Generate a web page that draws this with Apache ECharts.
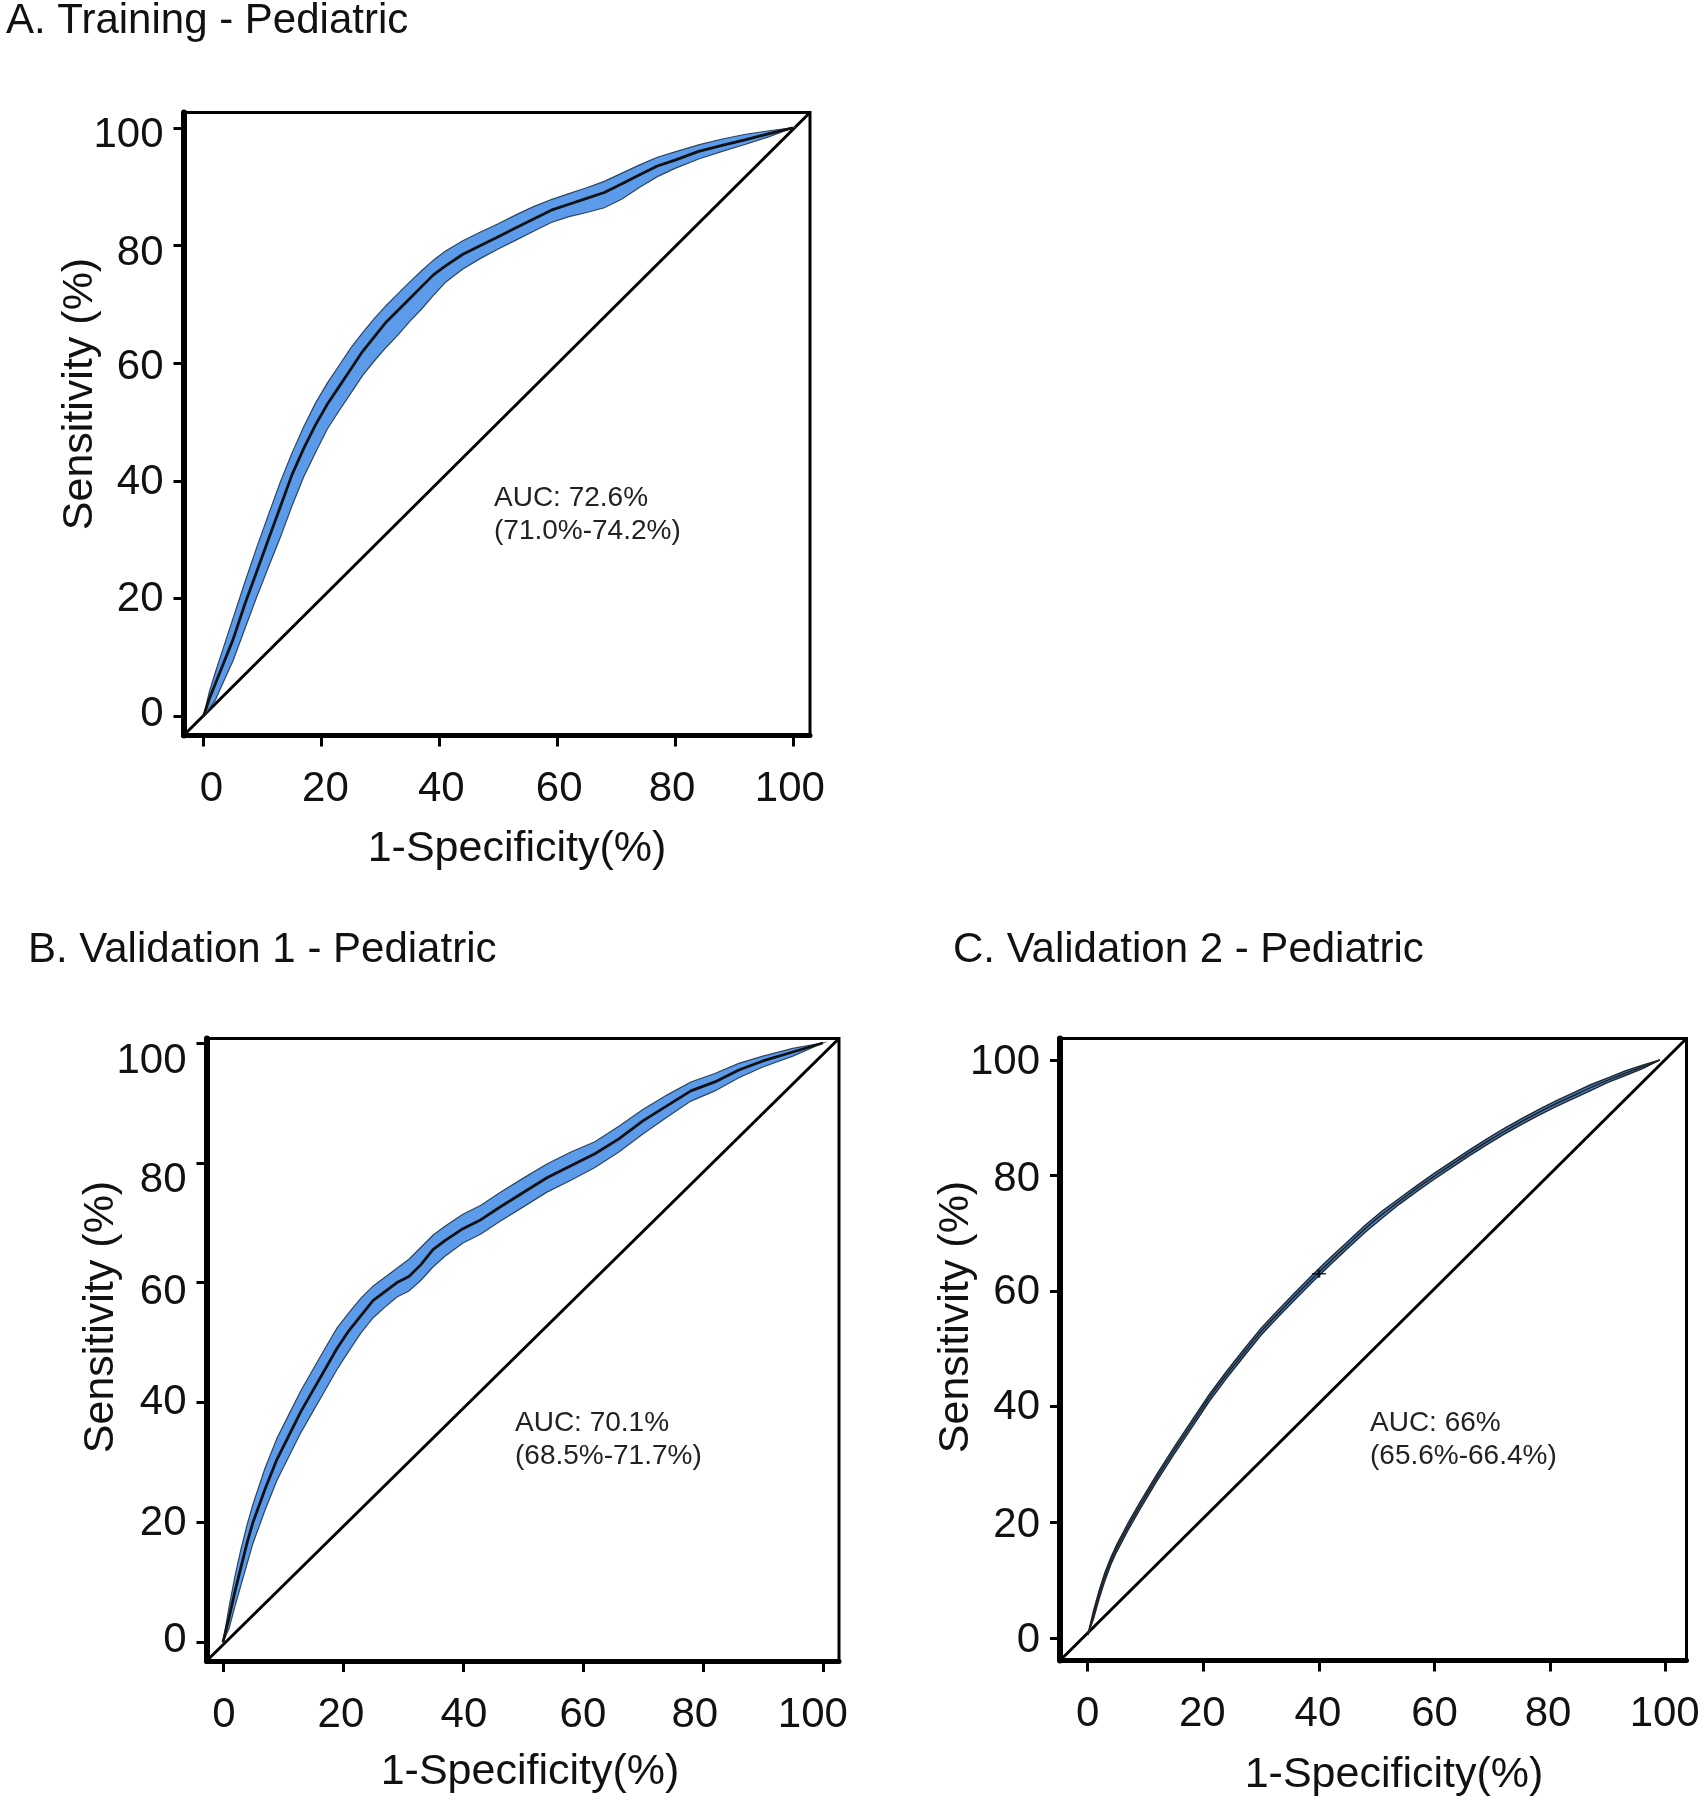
<!DOCTYPE html>
<html>
<head>
<meta charset="utf-8">
<script src="https://cdn.jsdelivr.net/npm/echarts@6/dist/echarts.min.js"></script>
<style>
html,body{margin:0;padding:0;background:#fff;}
#chart{width:1704px;height:1800px;}
</style>
</head>
<body>
<div id="chart"></div>
<script>
// ---------- data ----------
const panelTitles = ['A. Training - Pediatric', 'B. Validation 1 - Pediatric', 'C. Validation 2 - Pediatric'];
const xAxisName = '1-Specificity(%)';
const yAxisName = 'Sensitivity (%)';
const tickValues = [0, 20, 40, 60, 80, 100];
const tickLabels = ['0', '20', '40', '60', '80', '100'];
const aucLines = [
  ['AUC: 72.6%', '(71.0%-74.2%)'],
  ['AUC: 70.1%', '(68.5%-71.7%)'],
  ['AUC: 66%', '(65.6%-66.4%)']
];

// Panel A: ROC curve and CI band boundaries [1-specificity, sensitivity]
const rocA = [[0,0],[1,3],[2,5.5],[3,8],[5,13],[7,19],[9,24.5],[11,30],[13,35.5],[15,41],[17,45.5],[19,49.5],[21,53],[23,56],[25,59],[27,62],[29,64.5],[31,67],[33,69],[35,71],[37,73],[39,75],[41,76.5],[44,78.5],[47,80],[50,81.5],[53,83],[56,84.5],[59,86],[62,87],[65,88],[68,89],[71,90.5],[74,92],[77,93.5],[80,94.5],[84,96],[88,97],[92,98],[96,99],[100,100]];
const upperA = [[0,0],[1,4.2],[2,7.4],[3,10.5],[5,16.6],[7,22.7],[9,28.6],[11,34.2],[13,39.7],[15,44.7],[17,49.2],[19,53.2],[21,56.6],[23,59.6],[25,62.6],[27,65.2],[29,67.6],[31,69.8],[33,71.8],[35,73.8],[37,75.7],[39,77.5],[41,79],[44,80.8],[47,82.3],[50,83.7],[53,85.2],[56,86.6],[59,87.8],[62,88.8],[65,89.8],[68,90.9],[71,92.3],[74,93.7],[77,95],[80,95.9],[84,97.1],[88,98.1],[92,98.9],[96,99.5],[100,100]];
const lowerA = [[0,0],[2,2.7],[3,5],[5,9.4],[7,14.8],[9,20.2],[11,25.3],[13,30.3],[15,35.7],[17,40.7],[19,44.8],[21,48.8],[23,51.9],[25,54.9],[27,57.9],[29,60.4],[31,62.7],[33,64.8],[35,67.1],[37,69.2],[39,71.5],[41,73.7],[44,76],[47,77.8],[50,79.4],[53,80.9],[56,82.4],[59,83.9],[62,84.9],[65,85.6],[68,86.4],[71,87.9],[74,89.9],[77,91.7],[80,93.1],[84,94.7],[88,96],[92,97.2],[96,98.5],[100,100]];

// Panel B
const rocB = [[0,0],[1,4],[2,8.5],[3,12.5],[4,16.5],[5,20],[7,25.5],[9,30.5],[11,34.5],[13,38.5],[15,42],[17,45.5],[19,49],[21,52],[23,54.5],[25,57],[27,58.5],[29,60],[31,61],[33,63],[35,65.5],[37,67],[40,69],[43,70.5],[46,72.5],[50,75],[54,77.5],[58,79.5],[62,81.5],[66,84],[70,87],[74,89.5],[78,92],[82,93.5],[86,95.5],[90,97],[95,98.5],[100,100]];
const upperB = [[0,0],[1,5.8],[2,11],[3,15.5],[4,19.5],[5,23],[7,29],[9,34],[11,38],[13,42],[15,45.5],[17,49],[19,52.4],[21,55],[23,57.4],[25,59.4],[27,60.9],[29,62.4],[31,63.9],[33,65.9],[35,67.9],[37,69.4],[40,71.4],[43,72.9],[46,74.9],[50,77.4],[54,79.8],[58,81.8],[62,83.5],[66,86.1],[70,88.9],[74,91.3],[78,93.5],[82,94.9],[86,96.6],[90,97.8],[95,99.1],[100,100]];
const lowerB = [[0,0],[1,2.2],[2,6],[3,9.5],[4,13],[5,16.5],[7,22],[9,27],[11,31],[13,35],[15,38.5],[17,42],[19,45.5],[21,48.6],[23,51.6],[25,54.1],[27,55.9],[29,57.6],[31,58.6],[33,60.4],[35,62.6],[37,64.4],[40,66.6],[43,68.1],[46,70.1],[50,72.6],[54,75.1],[58,77.1],[62,79.2],[66,81.8],[70,84.8],[74,87.6],[78,90.3],[82,92],[86,94.2],[90,96],[95,97.8],[100,100]];

// Panel C
const rocC = [[0,0.5],[1,4],[2,7.6],[3,10.7],[4,13.3],[5,15.5],[7,19.3],[9,22.8],[12,27.8],[15,32.5],[18,37],[21,41.5],[24,45.5],[27,49.3],[30,53],[33,56.2],[36,59.3],[39,62.3],[42,65.2],[45,68],[48,70.8],[51,73.3],[54,75.6],[57,77.8],[60,79.9],[63,81.9],[66,83.9],[69,85.8],[72,87.6],[75,89.3],[78,90.9],[81,92.4],[84,93.8],[87,95.2],[90,96.5],[93,97.7],[96,98.8],[99,100]];
const upperC = [[0,0.5],[1,4.7],[2,8.3],[3,11.4],[4,13.9],[5,16.1],[7,19.9],[9,23.4],[12,28.4],[15,33.1],[18,37.6],[21,42.1],[24,46.1],[27,49.9],[30,53.6],[33,56.8],[36,59.9],[39,62.9],[42,65.8],[45,68.6],[48,71.4],[51,73.9],[54,76.1],[57,78.3],[60,80.4],[63,82.4],[66,84.4],[69,86.3],[72,88.1],[75,89.8],[78,91.4],[81,92.9],[84,94.3],[87,95.7],[90,96.9],[93,98.1],[96,99.1],[99,100]];
const lowerC = [[0,0.5],[1,3.3],[2,6.9],[3,10],[4,12.7],[5,14.9],[7,18.7],[9,22.2],[12,27.2],[15,31.9],[18,36.4],[21,40.9],[24,44.9],[27,48.7],[30,52.4],[33,55.6],[36,58.7],[39,61.7],[42,64.6],[45,67.4],[48,70.2],[51,72.7],[54,75.1],[57,77.3],[60,79.4],[63,81.4],[66,83.4],[69,85.3],[72,87.1],[75,88.8],[78,90.4],[81,91.9],[84,93.3],[87,94.7],[90,96.1],[93,97.3],[96,98.5],[99,100]];
const markerC = [[40, 63]];

// axis extents per panel (frame box)
const xRanges = [[-3.4, 102.9], [-2.75, 102.7], [-4.8, 103.6]];
const yRanges = [[-3.3, 102.6], [-3.17, 100.75], [-3.9, 103.7]];

// ---------- layout / style ----------
const FONT = '"Liberation Sans", Arial, Helvetica, sans-serif';
const grids = [
  {left: 183.5, top: 112.5, width: 626.5, height: 623},
  {left: 206.5, top: 1038.5, width: 632.5, height: 622.5},
  {left: 1060, top: 1038.5, width: 626.5, height: 622}
];
// small pixel nudges of tick labels (as printed in the original figure)
const yLabelNudge = [[-1.5, 1, 1.5, 4, 8, 8], [-1.5, 1, 0, 10, 18, 18.5], [2, 3, 1, 1, 3.5, 2.5]];
const xLabelNudge = [[8, 4, 2, 2, -3, -3], [1, -2, 1, 0, -8, -10], [0, -1, -1, 0, -2, -1]];
const titlePos = [[6, 21], [28, 950], [953, 950]];
const yNamePos = [[80, 394], [101, 1317], [956, 1317]];
const xNamePos = [[517, 849], [530, 1772], [1394, 1775]];
const aucPos = [[494, 498], [515, 1423], [1370, 1423]];

const rocs = [rocA, rocB, rocC];
const uppers = [upperA, upperB, upperC];
const lowers = [lowerA, lowerB, lowerC];

function richFor(nudges, vertical) {
  const rich = {};
  nudges.forEach((d, k) => {
    const p = vertical
      ? (d >= 0 ? [2 * d, 0, 0, 0] : [0, 0, -2 * d, 0])
      : (d >= 0 ? [0, 0, 0, 2 * d] : [0, -2 * d, 0, 0]);
    rich['n' + k] = {padding: p, fontSize: 42, fontFamily: FONT, color: '#111'};
  });
  return rich;
}
function labelFmt(v) {
  const k = tickValues.indexOf(Math.round(v));
  return k < 0 ? '' : '{n' + k + '|' + tickLabels[k] + '}';
}

const xAxes = [], yAxes = [], series = [], graphics = [];

for (let i = 0; i < 3; i++) {
  xAxes.push({
    gridIndex: i, type: 'value', min: xRanges[i][0], max: xRanges[i][1],
    axisLine: {show: true, onZero: false, lineStyle: {color: '#000', width: 5}},
    axisTick: {show: true, customValues: tickValues, length: 11, lineStyle: {color: '#000', width: 3}},
    axisLabel: {customValues: tickValues, margin: 33, fontSize: 42, fontFamily: FONT, color: '#111',
      formatter: labelFmt, rich: richFor(xLabelNudge[i], false)},
    splitLine: {show: false}
  });
  yAxes.push({
    gridIndex: i, type: 'value', min: yRanges[i][0], max: yRanges[i][1],
    axisLine: {show: true, onZero: false, lineStyle: {color: '#000', width: 6}},
    axisTick: {show: true, customValues: tickValues, length: 10, lineStyle: {color: '#000', width: 3}},
    axisLabel: {customValues: tickValues, margin: 20, fontSize: 42, fontFamily: FONT, color: '#111',
      formatter: labelFmt, rich: richFor(yLabelNudge[i], true)},
    splitLine: {show: false}
  });

  const up = uppers[i], lo = lowers[i];
  const thin = (i === 2);
  series.push({
    type: 'custom', xAxisIndex: i, yAxisIndex: i, silent: true, z: 3, clip: false,
    data: [[50, 50]],
    renderItem: function (params, api) {
      const pts = up.map(p => api.coord(p)).concat(lo.slice().reverse().map(p => api.coord(p)));
      return {type: 'polygon', shape: {points: pts},
        style: {fill: thin ? '#4f86c6' : '#5b9bea', stroke: thin ? '#1b2633' : '#2c4563', lineWidth: thin ? 1.4 : 1.2}};
    }
  });
  // diagonal reference line corner to corner
  series.push({
    type: 'line', xAxisIndex: i, yAxisIndex: i, silent: true, z: 2,
    data: [[xRanges[i][0], yRanges[i][0]], [xRanges[i][1], yRanges[i][1]]],
    showSymbol: false, lineStyle: {color: '#000', width: 3}
  });
  series.push({
    type: 'line', xAxisIndex: i, yAxisIndex: i, silent: true, z: 4,
    data: rocs[i], showSymbol: false, smooth: thin ? 0.3 : false,
    lineStyle: {color: thin ? '#222' : '#111', width: thin ? 1.6 : 2.8}
  });

  graphics.push({type: 'text', x: titlePos[i][0], y: titlePos[i][1],
    style: {text: panelTitles[i], font: '42px ' + FONT, fill: '#111', textAlign: 'left', textVerticalAlign: 'middle'}});
  graphics.push({type: 'text', x: yNamePos[i][0], y: yNamePos[i][1], rotation: Math.PI / 2,
    style: {text: yAxisName, font: '43px ' + FONT, fill: '#111', textAlign: 'center', textVerticalAlign: 'middle'}});
  graphics.push({type: 'text', x: xNamePos[i][0], y: xNamePos[i][1],
    style: {text: xAxisName, font: '43px ' + FONT, fill: '#111', textAlign: 'center', textVerticalAlign: 'middle'}});
  graphics.push({type: 'text', x: aucPos[i][0], y: aucPos[i][1],
    style: {text: aucLines[i][0], font: '28px ' + FONT, fill: '#222', textAlign: 'left', textVerticalAlign: 'middle'}});
  graphics.push({type: 'text', x: aucPos[i][0], y: aucPos[i][1] + 33.5,
    style: {text: aucLines[i][1], font: '28px ' + FONT, fill: '#222', textAlign: 'left', textVerticalAlign: 'middle'}});
}

series.push({
  type: 'scatter', xAxisIndex: 2, yAxisIndex: 2, silent: true, z: 5,
  data: markerC, symbol: 'path://M0,5L20,5M10,0L10,10', symbolSize: [14, 8],
  itemStyle: {color: 'none', borderColor: '#000', borderWidth: 2}
});

const chart = echarts.init(document.getElementById('chart'), null, {renderer: 'canvas'});
chart.setOption({
  animation: false,
  backgroundColor: '#fff',
  grid: grids.map(g => Object.assign({show: true, borderColor: '#000', borderWidth: 3, backgroundColor: 'transparent', containLabel: false}, g)),
  xAxis: xAxes,
  yAxis: yAxes,
  series: series,
  graphic: graphics
});
</script>
</body>
</html>
